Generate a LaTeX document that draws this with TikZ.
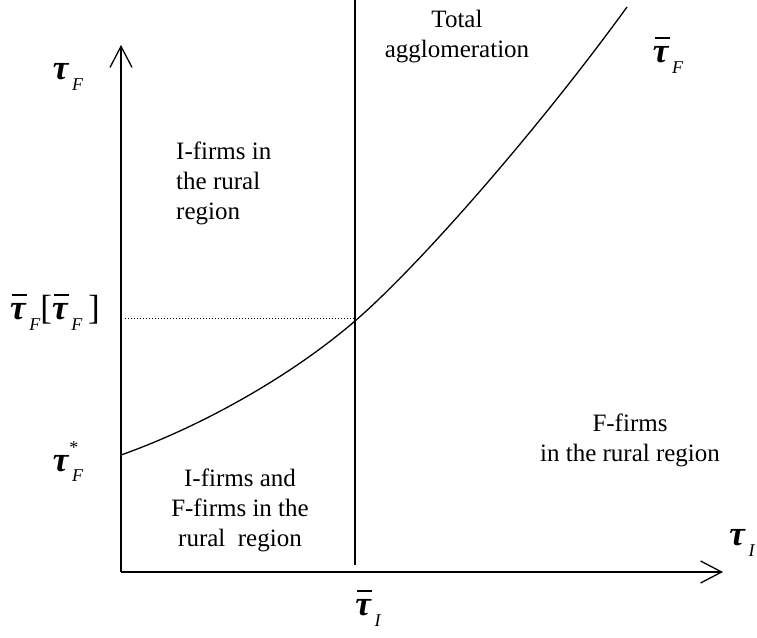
\documentclass[tikz,border=0pt]{standalone}
\usepackage{fontspec}
\setmainfont{Liberation Serif}
\usetikzlibrary{arrows.meta}
\newcommand{\tauv}{\textbf{\textit{τ}}}
\newcommand{\taubar}{\leavevmode\rlap{\kern0.06em\rule[0.68em]{0.42em}{0.055em}}\tauv}
\newcommand{\lsub}[1]{\kern0.08em\raisebox{-0.3em}{\fontsize{18}{18}\selectfont\itshape #1}}
\newcommand{\lsup}[1]{\raisebox{0.5em}{\fontsize{18}{18}\selectfont #1}}
\tikzset{
  region/.style  ={font=\fontsize{25}{30}\selectfont, align=center, inner sep=0pt},
  axlabel/.style ={font=\fontsize{35}{35}\selectfont, inner sep=0pt},
  axis/.style    ={line width=1.3pt,
                   -{Straight Barb[length=21pt,width=22pt,line width=1.3pt]}},
  bound/.style   ={line width=1.3pt},
  guide/.style   ={line width=1pt, dotted},
}

\begin{document}
\begin{tikzpicture}[x=1pt,y=1pt]
  \useasboundingbox (0,0) rectangle (757,637);

  % axes
  \coordinate (O)    at (121,65);
  \coordinate (ytop) at (121,592);
  \coordinate (xend) at (723,65);
  \draw[axis] (O) -- (ytop);
  \draw[axis] (O) -- (xend);

  % vertical bound at tau_I bar
  \coordinate (vbot) at (355,72);
  \coordinate (vtop) at (355,637);
  \draw[bound] (vbot) -- (vtop);

  % the tau_F bar curve
  \coordinate (c0) at (121,182);
  \coordinate (cx) at (355,316);
  \coordinate (c1) at (627,630);
  \draw[bound] (c0) .. controls (200,210) and (290,260) .. (cx)
                    .. controls (420,372) and (540,510) .. (c1);

  % dotted guide
  \coordinate (dstart) at (125,318);
  \draw[guide] (dstart) -- (dstart -| vbot);

  % axis labels
  \node[axlabel] (tF)     at (68,560)  {\tauv\lsub{F}};
  \node[axlabel] (tFbrk)  at (55,325)  {\taubar\lsub{F}[\taubar\lsub{F}\,]};
  \node[axlabel] (tFstar) at (68,175)  {\tauv\rlap{\lsup{*}}\lsub{F}};
  \node[axlabel] (tI)     at (742,94)  {\tauv\lsub{I}};
  \node[axlabel] (tIbar)  at (368,29)  {\taubar\lsub{I}};
  \node[axlabel] (tFbar)  at (668,582) {\taubar\lsub{F}};

  % regions
  \node[region] (agg) at (457,600) {Total\\agglomeration};
  \node[region, align=left, anchor=west] (irural) at (176,454)
        {I-firms in\\the rural\\region};
  \node[region] (frural) at (630,197) {F-firms\\in the rural region};
  \node[region] (ifrural) at (240,127) {I-firms and\\F-firms in the\\rural~ region};
\end{tikzpicture}
\end{document}
